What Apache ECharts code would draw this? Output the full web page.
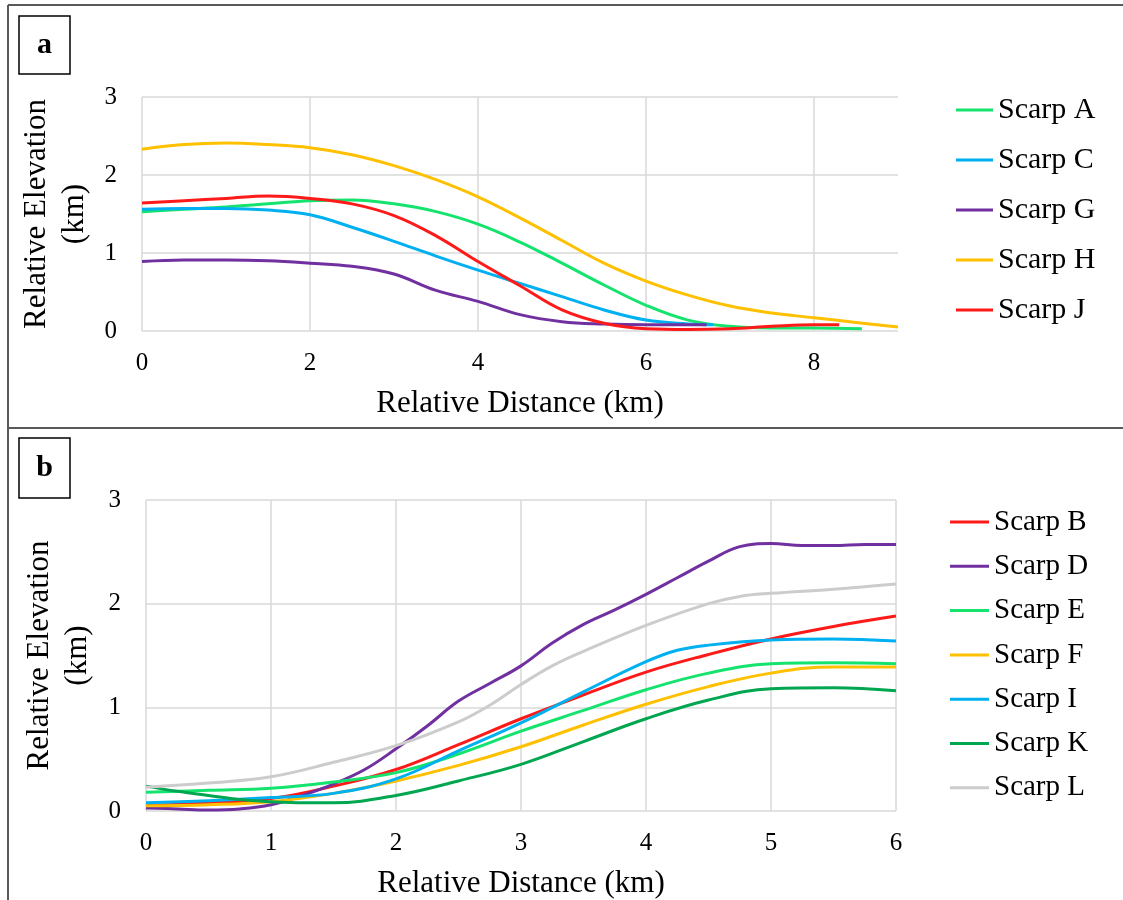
<!DOCTYPE html>
<html>
<head>
<meta charset="utf-8">
<script src="https://cdn.jsdelivr.net/npm/echarts@6/dist/echarts.min.js"></script>
<style>
html,body{margin:0;padding:0;background:#fff;}
#chart{width:1123px;height:900px;}
</style>
</head>
<body>
<div id="chart"></div>
<script>
// ---------- Panel a data ----------
const namesA = ['Scarp A', 'Scarp C', 'Scarp G', 'Scarp H', 'Scarp J'];
const colorsA = ['#14e36e', '#00b0f0', '#7030a0', '#ffc000', '#ff1a1a'];
const scarpA = [[0,1.53],[0.5,1.56],[1,1.59],[1.5,1.63],[2,1.67],[2.5,1.68],[3,1.63],[3.5,1.53],[4,1.37],[4.5,1.14],[5,0.87],[5.5,0.59],[6,0.33],[6.5,0.14],[7,0.06],[7.5,0.04],[8,0.04],[8.57,0.03]];
const scarpC = [[0,1.56],[0.5,1.57],[1,1.57],[1.5,1.55],[2,1.49],[2.5,1.33],[3,1.15],[3.5,0.96],[4,0.78],[4.5,0.61],[5,0.44],[5.5,0.27],[6,0.14],[6.5,0.09],[6.8,0.08]];
const scarpG = [[0,0.89],[0.5,0.91],[1,0.91],[1.5,0.90],[2,0.87],[2.5,0.83],[3,0.73],[3.5,0.52],[4,0.38],[4.5,0.21],[5,0.12],[5.5,0.09],[6,0.08],[6.72,0.08]];
const scarpH = [[0,2.33],[0.5,2.39],[1,2.41],[1.5,2.39],[2,2.35],[2.5,2.26],[3,2.12],[3.5,1.94],[4,1.72],[4.5,1.45],[5,1.16],[5.5,0.87],[6,0.64],[6.5,0.46],[7,0.32],[7.5,0.23],[8,0.17],[8.5,0.11],[9,0.05]];
const scarpJ = [[0,1.64],[0.5,1.67],[1,1.70],[1.5,1.73],[2,1.70],[2.5,1.63],[3,1.48],[3.5,1.22],[4,0.89],[4.5,0.58],[5,0.27],[5.5,0.10],[6,0.03],[6.5,0.02],[7,0.03],[7.5,0.06],[8,0.08],[8.3,0.08]];
const dataA = [scarpA, scarpC, scarpG, scarpH, scarpJ];

// ---------- Panel b data ----------
const namesB = ['Scarp B', 'Scarp D', 'Scarp E', 'Scarp F', 'Scarp I', 'Scarp K', 'Scarp L'];
const colorsB = ['#ff1a1a', '#7030a0', '#14e36e', '#ffc000', '#00b0f0', '#00a650', '#cccccc'];
const scarpB = [[0,0.05],[0.5,0.08],[1,0.12],[1.5,0.24],[2,0.40],[2.5,0.64],[3,0.89],[3.5,1.12],[4,1.34],[4.5,1.51],[5,1.66],[5.5,1.78],[6,1.88]];
const scarpD = [[0,0.03],[0.25,0.02],[0.5,0.01],[0.75,0.02],[1,0.06],[1.25,0.15],[1.5,0.26],[1.75,0.40],[2,0.60],[2.25,0.82],[2.5,1.06],[2.75,1.23],[3,1.40],[3.25,1.62],[3.5,1.80],[3.75,1.94],[4,2.09],[4.25,2.25],[4.5,2.41],[4.75,2.55],[5,2.58],[5.25,2.56],[5.5,2.56],[5.75,2.57],[6,2.57]];
const scarpE = [[0,0.18],[0.5,0.20],[1,0.22],[1.5,0.28],[2,0.37],[2.5,0.55],[3,0.77],[3.5,0.97],[4,1.17],[4.5,1.33],[5,1.42],[5.5,1.43],[6,1.42]];
const scarpF = [[0,0.05],[0.5,0.06],[1,0.09],[1.5,0.17],[2,0.29],[2.5,0.44],[3,0.62],[3.5,0.83],[4,1.03],[4.5,1.20],[5,1.33],[5.5,1.39],[6,1.39]];
const scarpI = [[0,0.08],[0.5,0.10],[1,0.13],[1.5,0.17],[2,0.31],[2.5,0.58],[3,0.85],[3.5,1.15],[4,1.44],[4.25,1.55],[4.5,1.60],[5,1.65],[5.5,1.66],[6,1.64]];
const scarpK = [[0,0.24],[0.25,0.19],[0.5,0.15],[0.75,0.11],[1,0.09],[1.25,0.08],[1.5,0.08],[2,0.15],[2.5,0.29],[3,0.45],[3.5,0.67],[4,0.89],[4.5,1.07],[5,1.18],[5.5,1.19],[6,1.16]];
const scarpL = [[0,0.23],[0.5,0.27],[1,0.33],[1.5,0.47],[2,0.63],[2.5,0.86],[2.75,1.02],[3,1.22],[3.25,1.40],[3.5,1.54],[4,1.79],[4.5,2.00],[4.75,2.07],[5,2.10],[5.5,2.14],[6,2.19]];
const dataB = [scarpB, scarpD, scarpE, scarpF, scarpI, scarpK, scarpL];

// ---------- axis settings ----------
const xMaxA = 9, xIntA = 2;
const xMaxB = 6, xIntB = 1;
const yMax = 3, yInt = 1;
const xTitle = 'Relative Distance (km)';
const yTitle = 'Relative Elevation\n(km)';

const FONT = '"Liberation Serif", "Times New Roman", serif';
const gridColor = '#d9d9d9';

function xAxis(gridIndex, max, interval, hideMax, gap) {
  return {
    type: 'value', gridIndex, min: 0, max, interval,
    name: xTitle, nameLocation: 'middle', nameGap: gap,
    nameTextStyle: {fontFamily: FONT, fontSize: 31, color: '#000'},
    axisLine: {show: false}, axisTick: {show: false},
    axisLabel: {fontFamily: FONT, fontSize: 25, color: '#000', margin: 20, showMaxLabel: !hideMax},
    splitLine: {show: true, showMaxLine: !hideMax, lineStyle: {color: gridColor, width: 1.5}}
  };
}
function yAxis(gridIndex, gap) {
  return {
    type: 'value', gridIndex, min: 0, max: yMax, interval: yInt,
    name: yTitle, nameLocation: 'middle', nameGap: gap, nameRotate: 90,
    nameTextStyle: {fontFamily: FONT, fontSize: 31, color: '#000', lineHeight: 38},
    axisLine: {show: false}, axisTick: {show: false},
    axisLabel: {fontFamily: FONT, fontSize: 25, color: '#000', margin: 25},
    splitLine: {show: true, lineStyle: {color: gridColor, width: 1.5}}
  };
}

const series = [];
namesA.forEach((n, i) => series.push({
  name: n, type: 'line', xAxisIndex: 0, yAxisIndex: 0, data: dataA[i],
  smooth: 0.4, showSymbol: false, symbol: 'none',
  lineStyle: {color: colorsA[i], width: 3}, itemStyle: {color: colorsA[i]}
}));
namesB.forEach((n, i) => series.push({
  name: n, type: 'line', xAxisIndex: 1, yAxisIndex: 1, data: dataB[i],
  smooth: 0.4, showSymbol: false, symbol: 'none',
  lineStyle: {color: colorsB[i], width: 3}, itemStyle: {color: colorsB[i]}
}));

const chart = echarts.init(document.getElementById('chart'), null, {renderer: 'canvas'});
chart.setOption({
  backgroundColor: '#fff',
  animation: false,
  grid: [
    {left: 142, top: 97, width: 756, height: 234},
    {left: 146, top: 500, width: 750, height: 312}
  ],
  xAxis: [xAxis(0, xMaxA, xIntA, true, 57), xAxis(1, xMaxB, xIntB, false, 57)],
  yAxis: [yAxis(0, 45), yAxis(1, 49)],
  legend: [
    {data: namesA, orient: 'vertical', left: 951, top: 90, icon: 'rect', itemWidth: 37, itemHeight: 3,
     itemGap: 20, textStyle: {fontFamily: FONT, fontSize: 30, color: '#000', lineHeight: 30}, selectedMode: false},
    {data: namesB, orient: 'vertical', left: 945, top: 502, icon: 'rect', itemWidth: 39, itemHeight: 3,
     itemGap: 14.3, textStyle: {fontFamily: FONT, fontSize: 29, color: '#000', lineHeight: 30}, selectedMode: false}
  ],
  graphic: [
    {type: 'line', shape: {x1: 8, y1: 5, x2: 1123, y2: 5}, style: {stroke: '#595959', lineWidth: 2}},
    {type: 'line', shape: {x1: 8, y1: 5, x2: 8, y2: 900}, style: {stroke: '#595959', lineWidth: 2}},
    {type: 'line', shape: {x1: 8, y1: 428, x2: 1123, y2: 428}, style: {stroke: '#595959', lineWidth: 2}},
    {type: 'rect', shape: {x: 19, y: 16, width: 51, height: 58}, style: {fill: '#fff', stroke: '#000', lineWidth: 1.5}},
    {type: 'text', x: 44.5, y: 45, style: {text: 'a', font: 'bold 30px ' + FONT, fill: '#000', align: 'center', verticalAlign: 'middle'}},
    {type: 'rect', shape: {x: 19, y: 438, width: 51, height: 60}, style: {fill: '#fff', stroke: '#000', lineWidth: 1.5}},
    {type: 'text', x: 44.5, y: 468, style: {text: 'b', font: 'bold 30px ' + FONT, fill: '#000', align: 'center', verticalAlign: 'middle'}}
  ],
  series
});
</script>
</body>
</html>
